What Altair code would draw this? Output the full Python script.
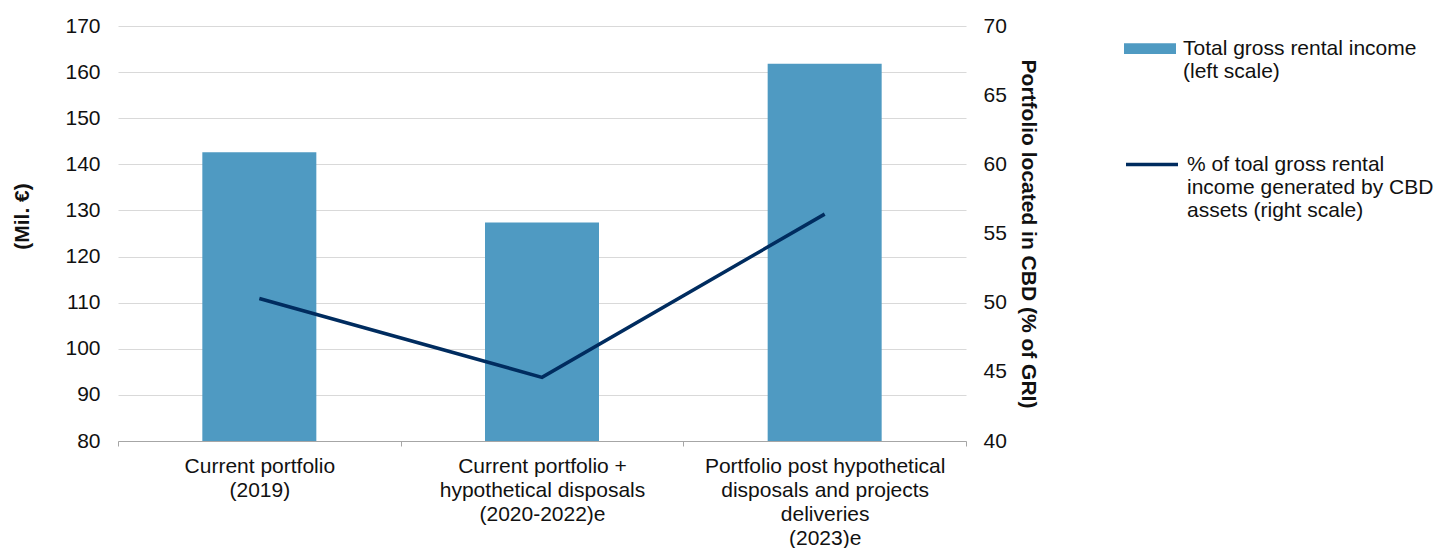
import altair as alt
import pandas as pd

# ---- data ----
categories = [
    "Current portfolio|(2019)",
    "Current portfolio +|hypothetical disposals|(2020-2022)e",
    "Portfolio post hypothetical|disposals and projects|deliveries|(2023)e",
]
gross_rental_income = [142.6, 127.4, 161.8]   # Mil. EUR, left scale
cbd_share = [50.3, 44.6, 56.4]                # % of GRI, right scale
left_ticks = [80, 90, 100, 110, 120, 130, 140, 150, 160, 170]
right_ticks = [40, 45, 50, 55, 60, 65, 70]

bar_name = "Total gross rental income|(left scale)"
line_name = "% of toal gross rental|income generated by CBD|assets (right scale)"

df = pd.DataFrame({
    "category": categories,
    "income": gross_rental_income,
    "share": cbd_share,
    "bar_series": [bar_name] * 3,
    "line_series": [line_name] * 3,
})

FONT = "Liberation Sans"
FS = 21
BAR_COLOR = "#4F9AC2"
LINE_COLOR = "#002C5F"
TEXT = "#111111"

x_enc = alt.X(
    "category:N",
    sort=categories,
    scale=alt.Scale(paddingInner=0, paddingOuter=0),
    axis=alt.Axis(
        title=None,
        labelExpr="split(datum.label, '|')",
        labelAngle=0,
        labelFontSize=FS,
        labelLineHeight=24,
        labelPadding=9,
        labelColor=TEXT,
        labelFont=FONT,
        tickBand="extent",
        tickSize=5,
        tickColor="#A6A6A6",
        domainColor="#A6A6A6",
        grid=False,
        labelLimit=0,
    ),
)

bars = alt.Chart(df).mark_bar(size=114, clip=True).encode(
    x=x_enc,
    y=alt.Y(
        "income:Q",
        scale=alt.Scale(domain=[80, 170], nice=False, zero=False),
        axis=alt.Axis(
            values=left_ticks,
            title="(Mil. €)",
            titleFontSize=FS,
            titleFontWeight="bold",
            titleFont=FONT,
            titleColor=TEXT,
            titlePadding=32,
            titleY=190,
            labelFontSize=FS,
            labelFont=FONT,
            labelColor=TEXT,
            labelPadding=18,
            ticks=False,
            domain=False,
            grid=True,
            gridColor="#D9D9D9",
            gridWidth=1,
        ),
    ),
    fill=alt.Fill(
        "bar_series:N",
        scale=alt.Scale(domain=[bar_name], range=[BAR_COLOR]),
        legend=alt.Legend(
            title=None,
            orient="none",
            legendX=1006,
            legendY=-14,
            symbolType="M-1,0.2H1V0.62H-1Z",
            symbolSize=2704,
            symbolStrokeWidth=0,
            labelExpr="split(datum.label, '|')",
            labelBaseline="top",
            labelFontSize=FS,
            labelFont=FONT,
            labelColor=TEXT,
            labelOffset=7,
            labelLimit=0,
        ),
    ),
)

line = alt.Chart(df).mark_line(strokeWidth=3.5).encode(
    x=x_enc,
    y=alt.Y(
        "share:Q",
        scale=alt.Scale(domain=[40, 70], nice=False, zero=False),
        axis=alt.Axis(
            orient="right",
            values=right_ticks,
            title="Portfolio located in CBD (% of GRI)",
            titleFontSize=FS,
            titleFontWeight="bold",
            titleFont=FONT,
            titleColor=TEXT,
            titlePadding=11,
            labelFontSize=FS,
            labelFont=FONT,
            labelColor=TEXT,
            labelPadding=17,
            ticks=False,
            domain=False,
            grid=False,
        ),
    ),
    stroke=alt.Stroke(
        "line_series:N",
        scale=alt.Scale(domain=[line_name], range=[LINE_COLOR]),
        legend=alt.Legend(
            title=None,
            orient="none",
            legendX=1006,
            legendY=100,
            symbolType="M-1,0.4H1",
            symbolSize=2704,
            symbolStrokeWidth=3.5,
            labelExpr="split(datum.label, '|')",
            labelBaseline="top",
            labelFontSize=FS,
            labelFont=FONT,
            labelColor=TEXT,
            labelOffset=7,
            labelLimit=0,
        ),
    ),
)

chart = (
    alt.layer(bars, line)
    .resolve_scale(y="independent", fill="independent", stroke="independent")
    .properties(
        width=848,
        height=415,
        padding={"left": 118, "top": 26, "right": 470, "bottom": 107},
        autosize=alt.AutoSizeParams(type="none"),
        background="white",
    )
    .configure_view(stroke=None)
)

chart.save("out.html", embed_options={"renderer": "svg", "actions": False})
